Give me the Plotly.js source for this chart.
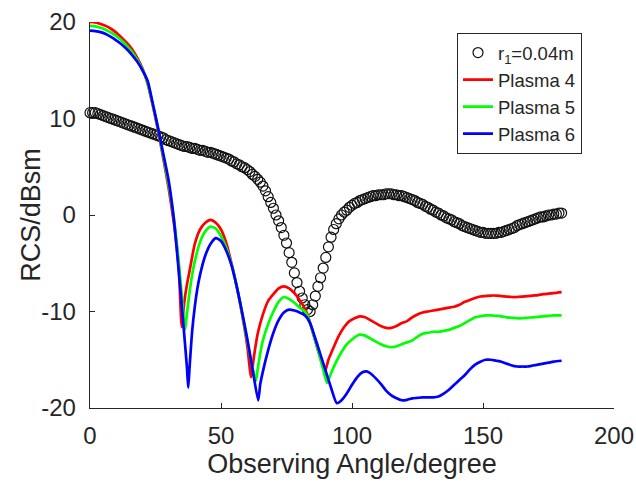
<!DOCTYPE html>
<html>
<head>
<meta charset="utf-8">
<script src="https://cdn.plot.ly/plotly-3.0.1.min.js"></script>
<style>html,body{margin:0;padding:0;background:#fff;}#chart{width:636px;height:487px;}</style>
</head>
<body>
<div id="chart"></div>
<script>
// r1 = 0.04 m, one marker per degree 0..180
const r1Angles = Array.from({length: 181}, (_, i) => i);
const r1Values = [
  10.6,10.6,10.6,10.5,10.4,10.3,10.2,10.1,10.0,9.9,
  9.8,9.7,9.6,9.5,9.4,9.3,9.2,9.1,9.0,8.9,
  8.8,8.7,8.6,8.5,8.4,8.3,8.2,8.1,8.0,7.8,
  7.7,7.6,7.5,7.4,7.3,7.2,7.1,7.1,7.0,6.9,
  6.9,6.8,6.7,6.7,6.6,6.5,6.5,6.4,6.3,6.2,
  6.1,6.0,5.9,5.8,5.6,5.5,5.3,5.2,5.0,4.9,
  4.7,4.5,4.2,4.0,3.7,3.4,3.0,2.5,1.9,1.3,
  0.7,0.0,-0.6,-1.3,-2.1,-2.9,-3.9,-4.9,-6.0,-7.0,
  -7.9,-8.6,-9.3,-9.8,-10.0,-9.3,-8.4,-7.4,-6.5,-5.5,
  -4.4,-3.3,-2.3,-1.5,-0.9,-0.4,0.0,0.3,0.5,0.8,
  1.0,1.2,1.3,1.5,1.6,1.7,1.8,1.9,2.0,2.0,
  2.1,2.1,2.1,2.2,2.2,2.2,2.1,2.1,2.0,2.0,
  1.9,1.8,1.7,1.6,1.5,1.3,1.2,1.1,0.9,0.8,
  0.6,0.5,0.3,0.2,0.0,-0.1,-0.3,-0.4,-0.5,-0.7,
  -0.8,-0.9,-1.1,-1.2,-1.3,-1.4,-1.5,-1.6,-1.7,-1.8,
  -1.8,-1.9,-1.9,-1.9,-1.9,-1.9,-1.8,-1.8,-1.7,-1.6,
  -1.5,-1.4,-1.3,-1.1,-1.0,-0.9,-0.8,-0.7,-0.6,-0.5,
  -0.4,-0.3,-0.2,-0.2,-0.1,0.0,0.0,0.1,0.1,0.2,0.2
];

// Plasma 4
const p4Angles = [0,2,4,6,8,10,12,14,16,18,20,22,24,26,28,30,32,33,34,35,36,37,38,40,42,44,46,48,50,52,54,56,58,60,61.5,62.5,64,66,68,70,72,74,76,78,80,82,83,85,87,89,89.7,91,93,95,97,99,101,103,105,107,109,111,113,115,117,119,121,123,125,127,129,131,133,135,137,139,141,143,145,147,149,151,153,155,157,159,161,163,165,167,169,171,173,175,177,180];
const p4Values = [20.0,19.95,19.8,19.6,19.3,18.9,18.4,17.85,17.2,16.3,15.2,13.6,11.3,8.7,5.8,2.8,-0.8,-3.0,-6.0,-11.6,-9.0,-7.2,-5.8,-3.0,-1.5,-0.8,-0.5,-0.8,-1.5,-2.9,-5.0,-7.4,-10.2,-13.5,-16.8,-14.8,-12.3,-10.3,-8.9,-8.2,-7.6,-7.4,-7.6,-8.1,-8.8,-9.7,-10.3,-12.1,-14.0,-15.7,-16.2,-15.0,-13.7,-12.5,-11.6,-11.0,-10.7,-10.5,-10.6,-10.9,-11.2,-11.5,-11.7,-11.7,-11.5,-11.2,-11.0,-10.6,-10.3,-10.1,-10.0,-9.9,-9.8,-9.7,-9.6,-9.5,-9.3,-9.0,-8.8,-8.6,-8.45,-8.4,-8.35,-8.35,-8.4,-8.45,-8.5,-8.5,-8.45,-8.4,-8.35,-8.3,-8.2,-8.15,-8.1,-8.0];

// Plasma 5
const p5Angles = [0,2,4,6,8,10,12,14,16,18,20,22,24,26,28,30,32,33,34,35,36.3,37,38,39,40,42,44,46,48,50,52,54,56,58,60,62,63.3,64,65,66,68,70,72,74,76,78,80,82,83,85,87,89,90.5,92,94,96,98,100,102,103,105,107,109,111,113,115,117,119,121,123,125,127,129,131,133,135,137,139,141,143,145,147,149,151,153,155,157,159,161,163,165,167,169,171,173,175,177,180];
const p5Values = [19.6,19.55,19.4,19.2,18.9,18.55,18.1,17.55,16.9,16.1,15.1,13.7,11.4,8.9,6.1,3.2,-0.3,-2.6,-5.2,-8.2,-11.9,-10.2,-8.0,-6.2,-4.8,-2.8,-1.7,-1.2,-1.4,-2.2,-3.4,-5.1,-7.4,-10.1,-13.0,-15.8,-17.2,-16.0,-14.3,-13.0,-11.3,-10.0,-9.0,-8.5,-8.7,-9.1,-9.6,-10.0,-10.4,-12.1,-14.0,-16.0,-17.4,-16.4,-15.2,-14.2,-13.4,-12.9,-12.5,-12.4,-12.5,-12.8,-13.1,-13.4,-13.6,-13.7,-13.6,-13.4,-13.2,-13.0,-12.6,-12.3,-12.2,-12.1,-12.1,-12.0,-11.9,-11.7,-11.5,-11.2,-10.9,-10.6,-10.5,-10.4,-10.4,-10.45,-10.5,-10.6,-10.65,-10.7,-10.7,-10.65,-10.6,-10.55,-10.5,-10.45,-10.4,-10.4];

// Plasma 6
const p6Angles = [0,2,4,6,8,10,12,14,16,18,20,22,24,26,28,30,32,33,34,35,36,37,37.5,38,39,40,41,42,44,46,48,50,52,54,56,58,60,62,64.2,65,66,68,70,72,74,76,78,80,82,84,86,88,90,92,94.2,96,98,100,102,104,105.6,107,109,111,113,115,117,119,121,123,125,127,129,131,133,135,137,139,141,143,145,147,149,151,153,155,157,159,161,163,165,167,169,171,173,175,177,180];
const p6Values = [19.1,19.05,18.95,18.75,18.45,18.1,17.7,17.2,16.6,15.9,15.0,13.9,11.5,9.0,6.3,3.6,-0.4,-3.2,-6.2,-9.3,-12.5,-15.8,-17.9,-15.8,-12.0,-9.5,-7.6,-6.2,-4.2,-3.0,-2.4,-2.7,-3.7,-5.2,-7.4,-10.0,-12.8,-15.9,-19.2,-17.5,-16.2,-14.0,-12.2,-10.9,-10.1,-9.8,-9.9,-10.1,-10.4,-11.2,-12.8,-14.5,-16.2,-17.9,-19.5,-19.2,-18.5,-17.6,-16.8,-16.3,-16.2,-16.4,-16.9,-17.5,-18.2,-18.7,-19.0,-19.2,-19.15,-19.0,-18.95,-18.9,-18.9,-18.9,-18.8,-18.5,-18.1,-17.6,-17.1,-16.6,-16.0,-15.5,-15.2,-15.0,-15.0,-15.1,-15.2,-15.4,-15.6,-15.7,-15.7,-15.7,-15.6,-15.5,-15.4,-15.3,-15.2,-15.1];

const seriesNames = ['r<sub>1</sub>=0.04m', 'Plasma 4', 'Plasma 5', 'Plasma 6'];
const xTicks = [0, 50, 100, 150, 200];
const yTicks = [-20, -10, 0, 10, 20];
const xTitle = 'Observing Angle/degree';
const yTitle = 'RCS/dBsm';

const lineW = 2.7;
const data = [
  {x: r1Angles, y: r1Values, name: seriesNames[0], type: 'scatter', mode: 'markers', cliponaxis: false,
   marker: {symbol: 'circle-open', size: 10, color: '#111111', line: {width: 1.2, color: '#111111'}}},
  {x: p4Angles, y: p4Values, name: seriesNames[1], type: 'scatter', mode: 'lines',
   line: {color: '#ff0000', width: lineW, shape: 'spline', smoothing: 0.6}},
  {x: p5Angles, y: p5Values, name: seriesNames[2], type: 'scatter', mode: 'lines',
   line: {color: '#00ff00', width: lineW, shape: 'spline', smoothing: 0.6}},
  {x: p6Angles, y: p6Values, name: seriesNames[3], type: 'scatter', mode: 'lines',
   line: {color: '#0000ff', width: lineW, shape: 'spline', smoothing: 0.6}}
];

const axisColor = '#262626';
const layout = {
  width: 636, height: 487,
  margin: {l: 90, r: 22, t: 22, b: 79},
  paper_bgcolor: '#ffffff', plot_bgcolor: '#ffffff',
  font: {family: 'Liberation Sans, Arial, sans-serif', color: axisColor},
  showlegend: true,
  xaxis: {
    range: [0, 200], tickvals: xTicks, ticktext: xTicks.map(String),
    ticks: 'inside', ticklen: 5, tickwidth: 1, tickcolor: axisColor,
    showline: true, linecolor: axisColor, linewidth: 1.3, mirror: false,
    showgrid: false, zeroline: false, tickfont: {size: 24, color: axisColor},
    ticklabelstandoff: 6,
    title: {text: xTitle, font: {size: 27, color: axisColor}, standoff: 4}
  },
  yaxis: {
    range: [-20, 20], tickvals: yTicks, ticktext: yTicks.map(String),
    ticks: 'inside', ticklen: 5, tickwidth: 1, tickcolor: axisColor,
    showline: true, linecolor: axisColor, linewidth: 1.3, mirror: false,
    showgrid: false, zeroline: false, tickfont: {size: 24, color: axisColor},
    ticklabelstandoff: 8,
    title: {text: ''}
  },
  annotations: [{
    text: yTitle, xref: 'paper', yref: 'paper', x: -0.113, y: 0.5,
    xanchor: 'center', yanchor: 'middle', textangle: -90, showarrow: false,
    font: {size: 27, color: axisColor}
  }],
  legend: {
    x: 0.70, y: 0.972, xanchor: 'left', yanchor: 'top',
    bgcolor: '#ffffff', bordercolor: axisColor, borderwidth: 1.2,
    font: {size: 18.5, color: axisColor}, tracegroupgap: 0
  }
};

Plotly.newPlot('chart', data, layout, {displayModeBar: false, staticPlot: true});
</script>
</body>
</html>
